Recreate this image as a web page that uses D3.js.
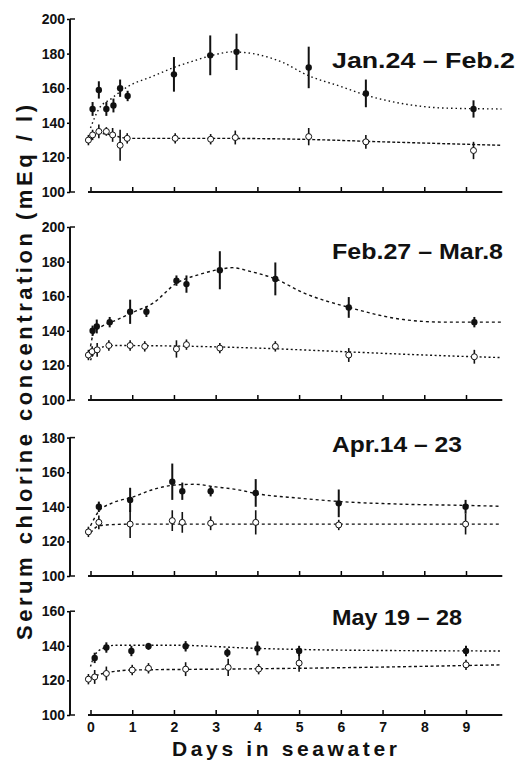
<!DOCTYPE html>
<html>
<head>
<meta charset="utf-8">
<script src="https://cdn.jsdelivr.net/npm/d3@7"></script>
<style>
	body { margin:0; background:#fff; }
	text { font-family:"Liberation Sans", Arial, Helvetica, sans-serif; font-weight:bold; fill:#111; }
</style>
</head>
<body>
<div id="chart"></div>
<script>

// points are [day, mean, error]; fits are [day, value]
const janSolid=[[0.05,148,4],[0.2,159,5],[0.38,148,4],[0.55,150,4],[0.71,160,5],[0.89,155.5,3],[2.0,168,10],[2.87,179,11.5],[3.5,181,10.5],[5.23,172,12],[6.6,157,8],[9.18,148,5]];
const janHollow=[[-0.05,130,3],[0.05,133,3],[0.2,135,4],[0.38,135,2.5],[0.53,133,4],[0.71,127,9],[0.88,131,3],[2.03,131,3],[2.88,130.5,3],[3.47,131.5,4],[5.23,132,5],[6.6,129,4],[9.18,124,5]];
const janSolidFit=[[0,137],[0.2,148],[0.5,154],[0.9,161],[1.5,167],[2,172],[2.5,176],[3,179.5],[3.4,181],[4,179.5],[4.6,175],[5.2,167.5],[6,161],[6.6,156],[7.5,151],[8.5,148.5],[9.85,148]];
const janHollowFit=[[0,130],[0.2,134],[0.5,133],[0.9,131],[3,131],[5,130.5],[7,129],[9.85,127]];

const febSolid=[[0.05,140,3],[0.15,142.5,4],[0.46,145,3],[0.95,151,7],[1.34,151,3],[2.06,169,3],[2.3,167,5],[3.1,175,11],[4.43,170,9.5],[6.19,153.5,6],[9.2,145,3]];
const febHollow=[[-0.05,126,3],[0.04,128,3],[0.16,129,4],[0.44,131.5,3],[0.95,131.5,3],[1.3,131,3],[2.06,129.5,5],[2.3,132,3],[3.1,130,3],[4.43,131,3],[6.19,126,4],[9.2,125,4]];
const febSolidFit=[[0,131],[0.08,139],[0.3,143],[0.6,146],[1,150.5],[1.5,156],[2.06,167.5],[2.6,172.5],[3.1,175.5],[3.4,176.5],[3.8,174.5],[4.43,170],[5.1,162],[6.2,153.5],[7.5,146.5],[8.5,145],[9.85,145]];
const febHollowFit=[[0,123],[0.15,129],[0.5,131.5],[2.5,131],[4,130],[6,128],[8,126],[9.85,124.5]];

const aprSolid=[[0.2,140,3],[0.95,144,7],[1.96,154.5,10.5],[2.2,149,5],[2.88,149,3],[3.96,148,8],[5.95,142,8],[8.99,140,4]];
const aprHollow=[[-0.05,125.5,3],[0.2,131,4],[0.95,130,8],[1.96,132,6],[2.2,131,6],[2.88,130.5,4],[3.96,131,7],[5.95,129.5,3],[8.99,130,6]];
const aprSolidFit=[[0,129],[0.2,137.5],[0.5,142],[1,145.5],[1.5,150],[2,152.5],[2.5,153],[3,151.5],[3.5,150],[4,147.5],[5,145],[6,143],[7.5,141.5],[9,140.8],[9.85,140.3]];
const aprHollowFit=[[0,125],[0.2,129],[0.5,129.7],[1,130],[9.85,130]];

const maySolid=[[0.1,133,3],[0.38,139,3],[0.98,137,3],[1.39,139.7,2],[2.28,139.7,3],[3.28,136,2.5],[4.0,138.5,4],[5.0,137,3],[9.0,137,3]];
const mayHollow=[[-0.05,120.7,3],[0.1,122,4],[0.38,124,4],[1.0,126,3],[1.39,127,3],[2.28,126.5,4],[3.3,127.5,5],[4.03,126.5,3],[5.0,130,5],[9.0,129,3]];
const maySolidFit=[[0,128],[0.1,134.5],[0.3,138.5],[0.6,140.3],[2,140.3],[4,138.5],[6,137.5],[9.85,137]];
const mayHollowFit=[[0,121.5],[0.3,124],[1,126],[3,126.5],[5,127],[9.85,129]];

const periods=["Jan.24 \u2013 Feb.2","Feb.27 \u2013 Mar.8","Apr.14 \u2013 23","May 19 \u2013 28"];
const yTops=[200,200,180,160];
const dayTicks=[0,1,2,3,4,5,6,7,8,9];

// layout per panel
const layout=[
	{base:192,title:68,titleLen:183,solidDash:"1.5,3",hollowDash:"3,2"},
	{base:400,title:259,titleLen:171,solidDash:"3,3",hollowDash:"2,2.5"},
	{base:576,title:452,titleLen:130,solidDash:"3,3",hollowDash:"3,3"},
	{base:715,title:625,titleLen:130,solidDash:"2,2.5",hollowDash:"3,2.5"}
];

const panels=[
	{solid:janSolid,hollow:janHollow,solidFit:janSolidFit,hollowFit:janHollowFit},
	{solid:febSolid,hollow:febHollow,solidFit:febSolidFit,hollowFit:febHollowFit},
	{solid:aprSolid,hollow:aprHollow,solidFit:aprSolidFit,hollowFit:aprHollowFit},
	{solid:maySolid,hollow:mayHollow,solidFit:maySolidFit,hollowFit:mayHollowFit}
];

const W=517, H=760, axisX=70, unit=1.73;

const svg=d3.select("#chart").append("svg")
	.attr("width",W)
	.attr("height",H);

const x=d3.scaleLinear().domain([0,9]).range([90.5,466]);

panels.forEach((p,i)=>{
	let L=layout[i],
		top=yTops[i];

	let y=d3.scaleLinear()
		.domain([100,top])
		.range([L.base,L.base-(top-100)*unit]);

	let g=svg.append("g");

	// y axis
	let ya=g.append("g")
		.attr("transform","translate("+axisX+",0)")
		.call(d3.axisLeft(y).tickValues(d3.range(100,top+1,20)).tickSize(3).tickPadding(2));
	ya.select(".domain").remove();
	ya.selectAll("text").style("font-size","14px");
	ya.selectAll("line").attr("stroke-width",1.5);

	g.append("line")
		.attr("x1",axisX).attr("x2",axisX)
		.attr("y1",y(top)).attr("y2",y(100))
		.attr("stroke","#111").attr("stroke-width",2);
	g.append("line")
		.attr("x1",axisX).attr("x2",axisX+5)
		.attr("y1",y(top)).attr("y2",y(top))
		.attr("stroke","#111").attr("stroke-width",1.5);
	g.append("line")
		.attr("x1",axisX).attr("x2",axisX+5)
		.attr("y1",y(100)).attr("y2",y(100))
		.attr("stroke","#111").attr("stroke-width",1.5);

	// x axis
	let xa=g.append("g")
		.attr("transform","translate(0,"+y(100)+")")
		.call(d3.axisBottom(x).tickValues(dayTicks).tickSize(-5).tickPadding(7)
			.tickFormat(i==3 ? d3.format("d") : ""));
	xa.select(".domain").remove();
	xa.selectAll("line").attr("stroke-width",1.5);
	xa.selectAll("text").style("font-size","14px");

	g.append("line")
		.attr("x1",x(-0.06)).attr("x2",x(9.87))
		.attr("y1",y(100)).attr("y2",y(100))
		.attr("stroke","#111").attr("stroke-width",2);

	// fitted curves
	let line=d3.line()
		.x(d=>x(d[0]))
		.y(d=>y(d[1]))
		.curve(d3.curveMonotoneX);

	g.append("path")
		.attr("d",line(p.solidFit))
		.attr("fill","none").attr("stroke","#111").attr("stroke-width",1.4)
		.attr("stroke-dasharray",L.solidDash);
	g.append("path")
		.attr("d",line(p.hollowFit))
		.attr("fill","none").attr("stroke","#111").attr("stroke-width",1.4)
		.attr("stroke-dasharray",L.hollowDash);

	// error bars
	g.selectAll(".errS").data(p.solid).enter().append("line")
		.attr("x1",d=>x(d[0])).attr("x2",d=>x(d[0]))
		.attr("y1",d=>y(d[1]-d[2])).attr("y2",d=>y(d[1]+d[2]))
		.attr("stroke","#111").attr("stroke-width",2);
	g.selectAll(".errH").data(p.hollow).enter().append("line")
		.attr("x1",d=>x(d[0])).attr("x2",d=>x(d[0]))
		.attr("y1",d=>y(d[1]-d[2])).attr("y2",d=>y(d[1]+d[2]))
		.attr("stroke","#111").attr("stroke-width",1.6);

	// points
	g.selectAll(".ptS").data(p.solid).enter().append("circle")
		.attr("cx",d=>x(d[0])).attr("cy",d=>y(d[1]))
		.attr("r",3.2).attr("fill","#111");
	g.selectAll(".ptH").data(p.hollow).enter().append("circle")
		.attr("cx",d=>x(d[0])).attr("cy",d=>y(d[1]))
		.attr("r",3).attr("fill","#fff").attr("stroke","#111").attr("stroke-width",1);

	// period label
	g.append("text")
		.attr("x",332).attr("y",L.title)
		.attr("textLength",L.titleLen).attr("lengthAdjust","spacingAndGlyphs")
		.style("font-size","22px")
		.text(periods[i]);
});

svg.append("text")
	.attr("x",172).attr("y",756)
	.attr("textLength",225).attr("lengthAdjust","spacing")
	.style("font-size","21px")
	.text("Days in seawater");

svg.append("text")
	.attr("transform","translate(32,640) rotate(-90)")
	.attr("textLength",535).attr("lengthAdjust","spacing")
	.style("font-size","22px")
	.text("Serum chlorine concentration (mEq / l)");

</script>
</body>
</html>
